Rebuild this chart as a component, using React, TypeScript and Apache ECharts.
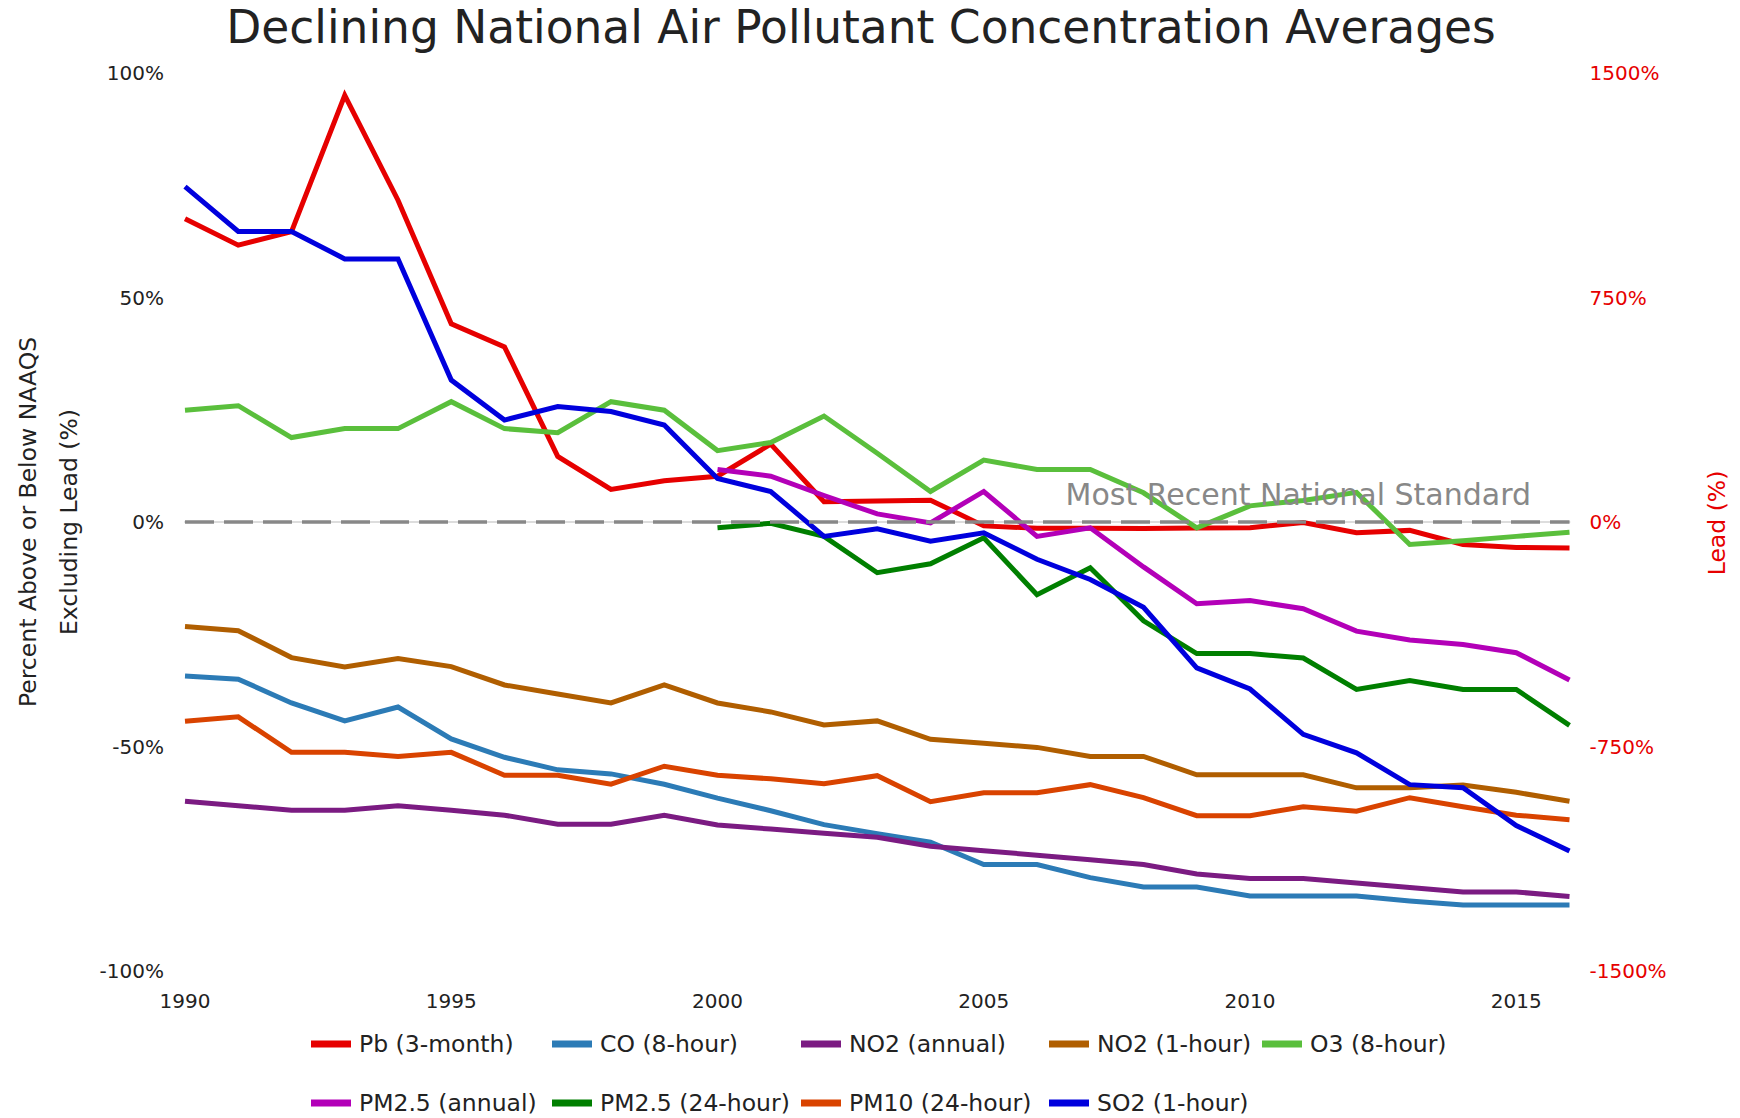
import React, { useEffect, useRef } from "react";
import * as echarts from "echarts";

const YEARS = [1990, 1991, 1992, 1993, 1994, 1995, 1996, 1997, 1998, 1999, 2000, 2001, 2002, 2003, 2004, 2005, 2006, 2007, 2008, 2009, 2010, 2011, 2012, 2013, 2014, 2015, 2016];

// Lead values are on the right axis (Lead %)
const PB = [1013, 925, 970, 1425, 1075, 662, 585, 219, 109, 138, 153, 260, 68, 70, 73, -13, -21, -21, -22, -20, -19, -2, -36, -28, -75, -85, -87];
const CO = [-34.3, -35, -40.3, -44.3, -41.2, -48.3, -52.4, -55.2, -56.1, -58.4, -61.5, -64.3, -67.4, -69.4, -71.3, -76.3, -76.3, -79.2, -81.3, -81.3, -83.3, -83.3, -83.3, -84.4, -85.3, -85.3, -85.3];
const NO2_ANNUAL = [-62.2, -63.2, -64.2, -64.2, -63.2, -64.2, -65.3, -67.3, -67.3, -65.3, -67.5, -68.4, -69.3, -70.2, -72.2, -73.2, -74.2, -75.2, -76.3, -78.4, -79.4, -79.4, -80.4, -81.4, -82.4, -82.4, -83.4];
const NO2_1HOUR = [-23.3, -24.2, -30.2, -32.3, -30.4, -32.2, -36.3, -38.3, -40.3, -36.3, -40.3, -42.3, -45.2, -44.3, -48.4, -49.3, -50.2, -52.2, -52.2, -56.3, -56.3, -56.3, -59.2, -59.2, -58.6, -60.2, -62.2];
const O3 = [24.9, 25.9, 18.8, 20.8, 20.8, 26.8, 20.8, 19.9, 26.8, 24.9, 15.9, 17.7, 23.6, 15.3, 6.8, 13.8, 11.7, 11.7, 6.5, -1.3, 3.6, 4.8, 6.6, -5, -4.2, -3.2, -2.3];
const PM25_ANNUAL = [null, null, null, null, null, null, null, null, null, null, 11.7, 10.2, 5.9, 1.8, -0.2, 6.8, -3.2, -1.3, -10, -18.2, -17.5, -19.3, -24.3, -26.3, -27.3, -29.1, -35.2];
const PM25_24HOUR = [null, null, null, null, null, null, null, null, null, null, -1.3, -0.3, -3.2, -11.3, -9.3, -3.5, -16.2, -10.2, -22, -29.3, -29.3, -30.3, -37.3, -35.3, -37.3, -37.3, -45.3];
const PM10 = [-44.4, -43.4, -51.3, -51.3, -52.2, -51.3, -56.4, -56.4, -58.4, -54.4, -56.4, -57.2, -58.3, -56.5, -62.3, -60.3, -60.3, -58.5, -61.4, -65.4, -65.4, -63.4, -64.4, -61.4, -63.4, -65.3, -66.3];
const SO2 = [74.7, 64.7, 64.7, 58.6, 58.6, 31.6, 22.7, 25.7, 24.6, 21.6, 9.7, 6.8, -3.2, -1.5, -4.3, -2.4, -8.3, -12.8, -19, -32.5, -37.2, -47.3, -51.4, -58.5, -59.2, -67.6, -73.3];

const SERIES_NAMES = ["Pb (3-month)", "CO (8-hour)", "NO2 (annual)", "NO2 (1-hour)", "O3 (8-hour)", "PM2.5 (annual)", "PM2.5 (24-hour)", "PM10 (24-hour)", "SO2 (1-hour)"];
const SERIES_VALUES = [PB, CO, NO2_ANNUAL, NO2_1HOUR, O3, PM25_ANNUAL, PM25_24HOUR, PM10, SO2];
const SERIES_COLORS = ["#e60000", "#2c7bb6", "#7b1b82", "#b05e00", "#5abf3c", "#b300b8", "#007f00", "#d94300", "#0000dd"];

const LEFT_TICKS = { min: -100, max: 100, interval: 50 };
const RIGHT_TICKS = { min: -1500, max: 1500, interval: 750 };
const X_RANGE = { min: 1990, max: 2016, interval: 5 };
const STANDARD_LEVEL = 0;

const TITLE = "Declining National Air Pollutant Concentration Averages";
const STANDARD_LABEL = "Most Recent National Standard";
const LEFT_NAME_1 = "Percent Above or Below NAAQS";
const LEFT_NAME_2 = "Excluding Lead (%)";
const RIGHT_NAME = "Lead (%)";

const FONT = "'DejaVu Sans', sans-serif";

const LEGEND_POS = [
  [311, 1032], [552, 1032], [801, 1032], [1049, 1032], [1262, 1032],
  [311, 1091], [552, 1091], [801, 1091], [1049, 1091],
];

export default function App() {
  const ref = useRef<HTMLDivElement>(null);

  useEffect(() => {
    if (!ref.current) return;
    const chart = echarts.init(ref.current, undefined, { renderer: "svg" });

    const series: any[] = SERIES_NAMES.map((name, i) => ({
      name,
      type: "line",
      yAxisIndex: i === 0 ? 1 : 0,
      symbol: "none",
      connectNulls: false,
      data: YEARS.map((y, j) => [y, SERIES_VALUES[i][j] === null ? "-" : SERIES_VALUES[i][j]]),
      lineStyle: { color: SERIES_COLORS[i], width: 5, cap: "butt", join: "miter" },
      itemStyle: { color: SERIES_COLORS[i] },
      z: 2,
    }));

    series.push({
      name: "standard",
      type: "line",
      symbol: "none",
      data: [],
      z: 3,
      markLine: {
        silent: true,
        symbol: ["none", "none"],
        label: { show: false },
        lineStyle: { color: "#888888", width: 3.5, type: [29, 10] },
        data: [{ yAxis: STANDARD_LEVEL }],
      },
    });

    chart.setOption({
      animation: false,
      color: SERIES_COLORS,
      grid: { left: 185, right: 170.5, top: 73, bottom: 147, containLabel: false },
      legend: SERIES_NAMES.map((name, i) => ({
        data: [name],
        left: LEGEND_POS[i][0],
        top: LEGEND_POS[i][1],
        padding: 0,
        itemWidth: 40,
        itemHeight: 7,
        icon: "rect",
        selectedMode: false,
        textStyle: { fontFamily: FONT, fontSize: 23.5, color: "#222222", lineHeight: 24, padding: [0, 0, 0, 3] },
      })),
      xAxis: {
        type: "value",
        min: X_RANGE.min,
        max: X_RANGE.max,
        interval: X_RANGE.interval,
        axisLine: { show: true, lineStyle: { color: "#dddddd", width: 2 } },
        axisTick: { show: false },
        splitLine: { show: false },
        axisLabel: {
          showMaxLabel: false,
          margin: 20,
          formatter: (v: number) => String(v),
          fontFamily: FONT,
          fontSize: 20,
          color: "#222222",
        },
      },
      yAxis: [
        {
          type: "value",
          min: LEFT_TICKS.min,
          max: LEFT_TICKS.max,
          interval: LEFT_TICKS.interval,
          axisLine: { show: false },
          axisTick: { show: false },
          splitLine: { show: false },
          axisLabel: { formatter: (v: number) => String(v) + "%", margin: 21, fontFamily: FONT, fontSize: 20, color: "#222222" },
        },
        {
          type: "value",
          position: "right",
          min: RIGHT_TICKS.min,
          max: RIGHT_TICKS.max,
          interval: RIGHT_TICKS.interval,
          axisLine: { show: false },
          axisTick: { show: false },
          splitLine: { show: false },
          axisLabel: { formatter: (v: number) => String(v) + "%", margin: 20, fontFamily: FONT, fontSize: 20, color: "#e60000" },
        },
      ],
      graphic: [
        {
          type: "text",
          x: 861, y: 27,
          style: { text: TITLE, fontFamily: FONT, fontSize: 45.5, fill: "#222222", align: "center", verticalAlign: "middle" },
        },
        {
          type: "text",
          x: 28, y: 522, rotation: Math.PI / 2,
          style: { text: LEFT_NAME_1, fontFamily: FONT, fontSize: 23.5, fill: "#222222", align: "center", verticalAlign: "middle" },
        },
        {
          type: "text",
          x: 69, y: 522, rotation: Math.PI / 2,
          style: { text: LEFT_NAME_2, fontFamily: FONT, fontSize: 23.5, fill: "#222222", align: "center", verticalAlign: "middle" },
        },
        {
          type: "text",
          x: 1717, y: 523, rotation: Math.PI / 2,
          style: { text: RIGHT_NAME, fontFamily: FONT, fontSize: 23.5, fill: "#e60000", align: "center", verticalAlign: "middle" },
        },
        {
          type: "text",
          x: 1531, y: 494,
          style: { text: STANDARD_LABEL, fontFamily: FONT, fontSize: 30, fill: "#888888", align: "right", verticalAlign: "middle" },
          z: 10,
        },
      ],
      series,
    });

    return () => chart.dispose();
  }, []);

  return <div ref={ref} style={{ position: "fixed", left: 0, top: 0, width: 1740, height: 1118, background: "#ffffff" }} />;
}
